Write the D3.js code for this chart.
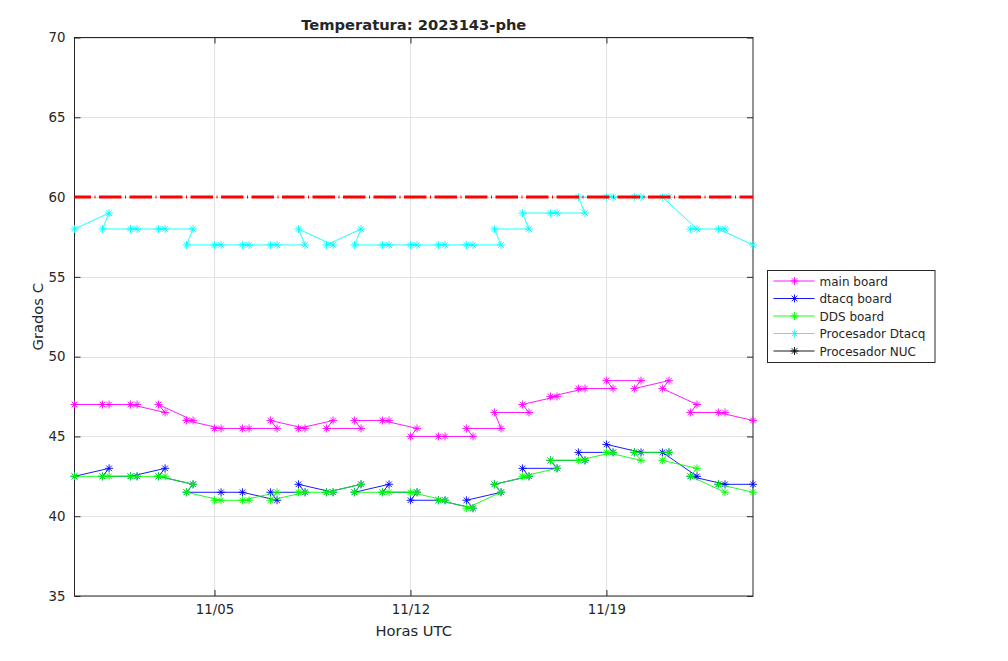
<!DOCTYPE html>
<html>
<head>
<meta charset="utf-8">
<script src="https://cdn.jsdelivr.net/npm/d3@7"></script>
<style>
  body { margin: 0; background: #fff; }
  text { font-family: "DejaVu Sans", sans-serif; fill: #262626; }
</style>
</head>
<body>
<div class="chart"></div>
<script>
// sample times (UTC), in the order they were logged
let times = [
  "2023-10-31 00:00",
  "2023-11-01 05:40", "2023-11-01 00:00",
  "2023-11-02 05:40", "2023-11-02 00:00",
  "2023-11-03 05:40", "2023-11-03 00:00",
  "2023-11-04 05:40", "2023-11-04 00:00",
  "2023-11-05 05:40", "2023-11-05 00:00",
  "2023-11-06 05:40", "2023-11-06 00:00",
  "2023-11-07 05:40", "2023-11-07 00:00",
  "2023-11-08 05:40", "2023-11-08 00:00",
  "2023-11-09 05:40", "2023-11-09 00:00",
  "2023-11-10 05:40", "2023-11-10 00:00",
  "2023-11-11 05:40", "2023-11-11 00:00",
  "2023-11-12 05:40", "2023-11-12 00:00",
  "2023-11-13 05:40", "2023-11-13 00:00",
  "2023-11-14 05:40", "2023-11-14 00:00",
  "2023-11-15 05:40", "2023-11-15 00:00",
  "2023-11-16 05:40", "2023-11-16 00:00",
  "2023-11-17 05:40", "2023-11-17 00:00",
  "2023-11-18 05:40", "2023-11-18 00:00",
  "2023-11-19 05:40", "2023-11-19 00:00",
  "2023-11-20 05:40", "2023-11-20 00:00",
  "2023-11-21 05:40", "2023-11-21 00:00",
  "2023-11-22 05:40", "2023-11-22 00:00",
  "2023-11-23 05:40", "2023-11-23 00:00",
  "2023-11-24 05:40"
];

let mainBoard = [47, 47,47, 47,47, 46.5,47, 46,46, 45.5,45.5, 45.5,45.5, 45.5,46, 45.5,45.5,
  46,45.5, 45.5,46, 46,46, 45.5,45, 45,45, 45,45.5, 45.5,46.5, 46.5,47, 47.5,47.5,
  48,48, 48,48.5, 48.5,48, 48.5,48, 47,46.5, 46.5,46.5, 46];
// null = no dtacq reading at that time
let dtacqBoard = [42.5, 43,42.5, 42.5,42.5, 43,42.5, 42,41.5, 41.5,null, null,41.5, 41,41.5,
  41.5,42, 41.5,41.5, 42,41.5, 42,41.5, 41.5,41, 41,41, 40.5,41, 41.5,42, 42.5,43,
  43,43.5, 43.5,44, 44,44.5, 44,44, 44,44, 42.5,42.5, 42,42, 42];
let ddsBoard = [42.5, 42.5,42.5, 42.5,42.5, 42.5,42.5, 42,41.5, 41,41, 41,41, 41.5,41,
  41.5,41.5, 41.5,41.5, 42,41.5, 41.5,41.5, 41.5,41.5, 41,41, 40.5,40.5, 41.5,42,
  42.5,42.5, 43,43.5, 43.5,43.5, 44,44, 43.5,44, 44,43.5, 43,42.5, 41.5,42, 41.5];
let procDtacq = [58, 59,58, 58,58, 58,58, 58,57, 57,57, 57,57, 57,57, 57,58, 57,57,
  58,57, 57,57, 57,57, 57,57, 57,57, 57,58, 58,59, 59,59, 59,60, 60,60, 60,60,
  60,60, 58,58, 58,58, 57];
let procNUC = []; // no NUC readings in this period

let limit = 60;
let names = ["main board", "dtacq board", "DDS board", "Procesador Dtacq", "Procesador NUC"];
let colors = ["#ff00ff", "#0000ff", "#00ff00", "#00ffff", "#000000"];
let yTicks = [35, 40, 45, 50, 55, 60, 65, 70];
let xTicks = ["2023-11-05", "2023-11-12", "2023-11-19"];

let width = 1008, height = 661;
let margin = {top: 37.5, right: 255, bottom: 65, left: 74.5};

let svg = d3.select(".chart")
  .append("svg")
    .attr("width", width)
    .attr("height", height);

let parse = d3.utcParse("%Y-%m-%d %H:%M");
let dates = times.map(parse);

let x = d3.scaleUtc()
    .domain(d3.extent(dates))
    .range([margin.left, width - margin.right]);
let y = d3.scaleLinear()
    .domain([35, 70])
    .range([height - margin.bottom, margin.top]);

let x0 = x.range()[0], x1 = x.range()[1];
let y0 = y.range()[0], y1 = y.range()[1];

// grid
let xt = xTicks.map(d3.utcParse("%Y-%m-%d"));
svg.append("g").selectAll("line.gx")
  .data(xt).enter().append("line")
    .attr("x1", d => Math.round(x(d)) + 0.5).attr("x2", d => Math.round(x(d)) + 0.5)
    .attr("y1", y1).attr("y2", y0)
    .attr("stroke", "#e2e2e2");
svg.append("g").selectAll("line.gy")
  .data(yTicks).enter().append("line")
    .attr("y1", d => Math.round(y(d)) + 0.5).attr("y2", d => Math.round(y(d)) + 0.5)
    .attr("x1", x0).attr("x2", x1)
    .attr("stroke", "#e2e2e2");

// axes (ticks inside, box on)
svg.append("g")
    .attr("transform", `translate(0,${y0})`)
    .call(d3.axisBottom(x).tickValues(xt).tickFormat(d3.utcFormat("%m/%d")).tickSizeInner(-6).tickSizeOuter(0).tickPadding(9))
    .call(g => g.select(".domain").remove());
svg.append("g")
    .attr("transform", `translate(0,${y1})`)
    .call(d3.axisTop(x).tickValues(xt).tickFormat("").tickSizeInner(-6).tickSizeOuter(0))
    .call(g => g.select(".domain").remove());
svg.append("g")
    .attr("transform", `translate(${x0},0)`)
    .call(d3.axisLeft(y).tickValues(yTicks).tickSizeInner(-6).tickSizeOuter(0).tickPadding(9))
    .call(g => g.select(".domain").remove());
svg.append("g")
    .attr("transform", `translate(${x1},0)`)
    .call(d3.axisRight(y).tickValues(yTicks).tickFormat("").tickSizeInner(-6).tickSizeOuter(0))
    .call(g => g.select(".domain").remove());

svg.selectAll(".tick line").attr("stroke", "#262626");
svg.selectAll(".tick text")
    .style("font-family", "DejaVu Sans, sans-serif")
    .style("font-size", "13.3px")
    .attr("fill", "#262626");

svg.append("rect")
    .attr("x", x0).attr("y", y1)
    .attr("width", x1 - x0).attr("height", y0 - y1)
    .attr("fill", "none")
    .attr("stroke", "#262626");

// series
let series = [mainBoard, dtacqBoard, ddsBoard, procDtacq, procNUC];
let star = "M-4,0H4M0,-4V4M-2.8,-2.8L2.8,2.8M-2.8,2.8L2.8,-2.8";

series.forEach(function(vals, k) {
  let pts = vals.map((v, i) => [dates[i], v]).filter(d => d[1] != null);
  svg.append("path")
    .datum(pts)
    .attr("fill", "none")
    .attr("stroke", colors[k])
    .attr("stroke-width", 0.9)
    .attr("d", d3.line().x(d => x(d[0])).y(d => y(d[1])));
  svg.append("g").selectAll("path")
    .data(pts).enter().append("path")
      .attr("transform", d => `translate(${x(d[0])},${y(d[1])})`)
      .attr("d", star)
      .attr("stroke", colors[k])
      .attr("stroke-width", 0.9)
      .attr("fill", "none");
});

// upper limit
svg.append("line")
    .attr("x1", x0).attr("x2", x1)
    .attr("y1", y(limit)).attr("y2", y(limit))
    .attr("stroke", "#ff0000")
    .attr("stroke-width", 3)
    .attr("stroke-dasharray", "22.5,3.5,1,3.5")
    .attr("stroke-dashoffset", 6);

// titles
svg.append("text")
    .attr("x", (x0 + x1) / 2).attr("y", 30)
    .attr("text-anchor", "middle")
    .style("font-size", "14.7px").style("font-weight", "bold")
    .attr("fill", "#000")
    .text("Temperatura: 2023143-phe");
svg.append("text")
    .attr("x", (x0 + x1) / 2).attr("y", 636)
    .attr("text-anchor", "middle")
    .style("font-size", "14.7px")
    .text("Horas UTC");
svg.append("text")
    .attr("transform", `translate(43,${(y0 + y1) / 2}) rotate(-90)`)
    .attr("text-anchor", "middle")
    .style("font-size", "14.7px")
    .text("Grados C");

// legend
let leg = svg.append("g").attr("transform", "translate(767.5,270.5)");
leg.append("rect")
    .attr("width", 167.5).attr("height", 92)
    .attr("fill", "#fff")
    .attr("stroke", "#262626");
names.forEach(function(n, i) {
  let ly = 10.5 + i * 17.5;
  leg.append("line")
    .attr("x1", 6).attr("x2", 47).attr("y1", ly).attr("y2", ly)
    .attr("stroke", colors[i]).attr("stroke-width", 0.9);
  leg.append("path")
    .attr("transform", `translate(27,${ly})`)
    .attr("d", star)
    .attr("stroke", colors[i]).attr("stroke-width", 0.9).attr("fill", "none");
  leg.append("text")
    .attr("x", 52).attr("y", ly + 4.5)
    .style("font-size", "12px")
    .attr("fill", "#000")
    .text(n);
});
</script>
</body>
</html>
